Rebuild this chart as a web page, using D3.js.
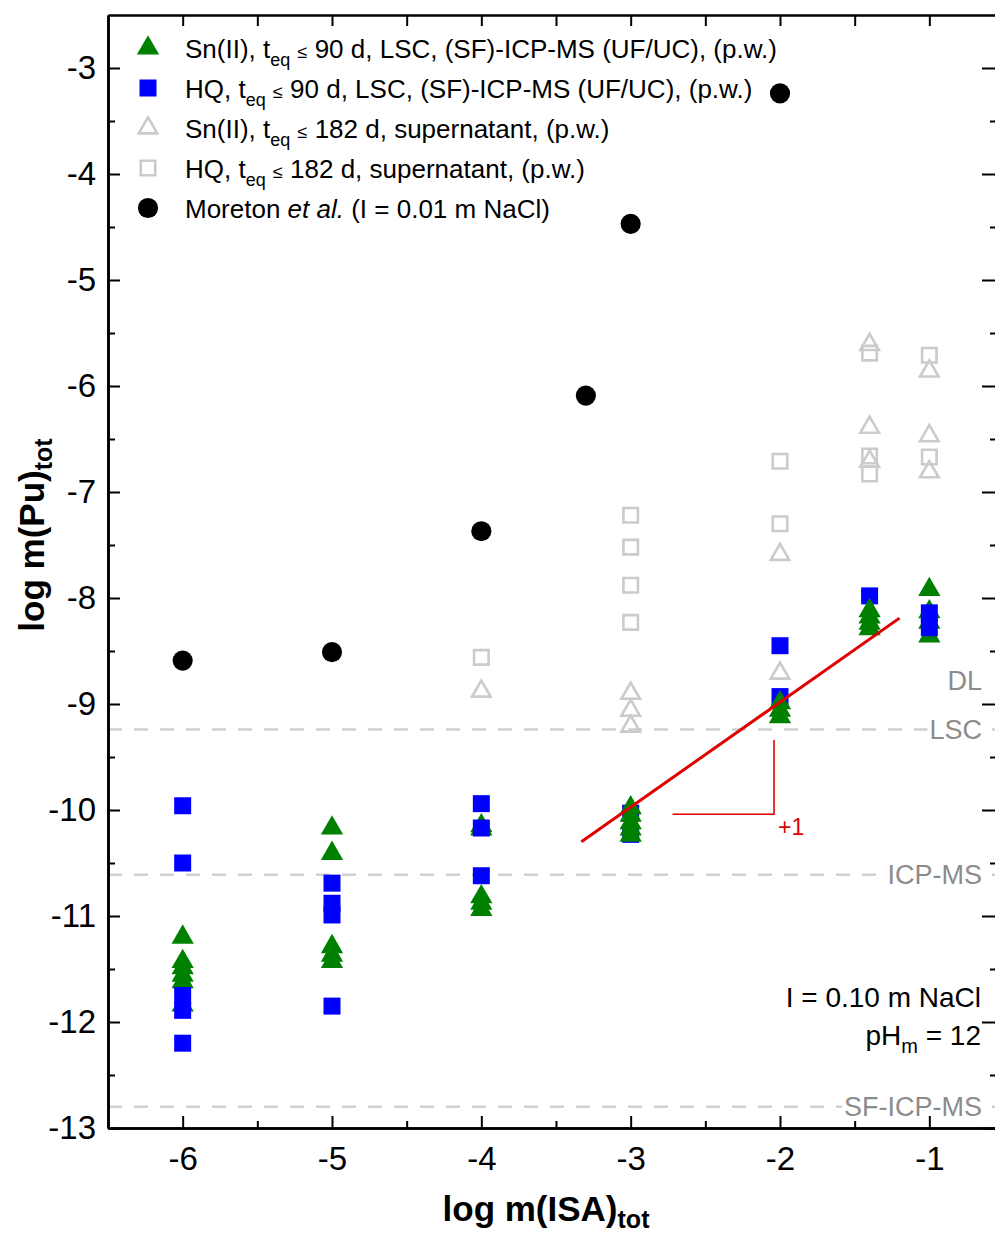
<!DOCTYPE html>
<html>
<head>
<meta charset="utf-8">
<script src="https://cdn.jsdelivr.net/npm/d3@7"></script>
<style>
  body { margin: 0; background: #fff; }
  svg text { font-family: "Liberation Sans", Arial, sans-serif; }
</style>
</head>
<body>
<div id="chartArea"></div>
<script>
// ---- data ----
var xTicks = [-6, -5, -4, -3, -2, -1];
var yTicks = [-3, -4, -5, -6, -7, -8, -9, -10, -11, -12, -13];
var xMinor = [-5.5, -4.5, -3.5, -2.5, -1.5];
var yMinor = [-3.5, -4.5, -5.5, -6.5, -7.5, -8.5, -9.5, -10.5, -11.5, -12.5];

// Sn(II), t_eq <= 90 d
var snII90 = [
  [-6, -11.20], [-6, -11.43], [-6, -11.49], [-6, -11.56], [-6, -11.62], [-6, -11.84],
  [-5, -10.17], [-5, -10.41], [-5, -11.29], [-5, -11.37], [-5, -11.43],
  [-4, -10.15], [-4, -10.18], [-4, -10.82], [-4, -10.88], [-4, -10.94],
  [-3, -9.98], [-3, -10.05], [-3, -10.12], [-3, -10.18], [-3, -10.24],
  [-2, -8.99], [-2, -9.06], [-2, -9.12],
  [-1.4, -8.12], [-1.4, -8.18], [-1.4, -8.24], [-1.4, -8.29],
  [-1, -7.92], [-1, -8.13], [-1, -8.23], [-1, -8.36]
];
// HQ, t_eq <= 90 d
var hq90 = [
  [-6, -9.96], [-6, -10.50], [-6, -11.75], [-6, -11.89], [-6, -12.20],
  [-5, -10.69], [-5, -10.88], [-5, -10.99], [-5, -11.85],
  [-4, -9.94], [-4, -10.17], [-4, -10.62],
  [-3, -10.03], [-3, -10.23],
  [-2, -8.45], [-2, -8.93],
  [-1.4, -7.98],
  [-1, -8.14], [-1, -8.28]
];
// Sn(II), t_eq <= 182 d, supernatant
var snII182 = [
  [-4, -8.88],
  [-3, -8.90], [-3, -9.06], [-3, -9.21],
  [-2, -7.59], [-2, -8.71],
  [-1.4, -5.61], [-1.4, -6.39], [-1.4, -6.71],
  [-1, -5.86], [-1, -6.47], [-1, -6.81]
];
// HQ, t_eq <= 182 d, supernatant
var hq182 = [
  [-4, -8.56],
  [-3, -7.22], [-3, -7.52], [-3, -7.88], [-3, -8.23],
  [-2, -6.71], [-2, -7.30],
  [-1.4, -5.69], [-1.4, -6.66], [-1.4, -6.83],
  [-1, -5.71], [-1, -6.67]
];
// Moreton et al.
var moreton = [[-6, -8.59], [-5, -8.51], [-4, -7.37], [-3.3, -6.09], [-3, -4.47], [-2, -3.24]];

// columns where the green triangles sit on top of the blue squares
var greenOnTop = [-3, -2, -1.4];

// slope +1 line and its marker
var fitLine = [[-3.33, -10.30], [-1.2, -8.19]];
var slopeMark = [[-2.72, -10.04], [-2.04, -10.04], [-2.04, -9.34]];

// detection limits
var limits = [
  { name: "LSC", value: -9.24 },
  { name: "ICP-MS", value: -10.61 },
  { name: "SF-ICP-MS", value: -12.80 }
];
var dlLabelValue = -8.78;

// ---- layout ----
var W = 995, H = 1235;
var green = "#008000", blue = "#0000ff", grey = "#cbcbcb", red = "#e00000";

var svg = d3.select("#chartArea").append("svg")
  .attr("width", W)
  .attr("height", H);

var x = d3.scaleLinear().domain([-6.5, -0.5]).range([108, 1004]);
var y = d3.scaleLinear().domain([-13, -2.5]).range([1128, 15]);

// detection limit lines
var lim = svg.append("g");
limits.forEach(function(l) {
  lim.append("line")
    .attr("x1", x(-6.5)).attr("x2", x(-0.5))
    .attr("y1", y(l.value)).attr("y2", y(l.value))
    .attr("stroke", "#d0d0d0")
    .attr("stroke-width", 2.5)
    .attr("stroke-dasharray", "14,12");
  var t = lim.append("text")
    .attr("x", 982).attr("y", y(l.value) + 9.5)
    .attr("text-anchor", "end")
    .attr("font-size", 27)
    .attr("fill", "#8c8c8c")
    .text(l.name);
  var bb = t.node().getBBox();
  lim.insert("rect", function() { return t.node(); })
    .attr("x", bb.x - 2).attr("y", y(l.value) - 5)
    .attr("width", bb.width + 4).attr("height", 10)
    .attr("fill", "#fff");
});
lim.append("text")
  .attr("x", 982).attr("y", y(dlLabelValue) + 9.5)
  .attr("text-anchor", "end")
  .attr("font-size", 27)
  .attr("fill", "#8c8c8c")
  .text("DL");

// markers
var triPath = d3.symbol().type(d3.symbolTriangle).size(215)();
var sqPath = d3.symbol().type(d3.symbolSquare).size(289)();
var openTri = d3.symbol().type(d3.symbolTriangle).size(150)();
var openSq = d3.symbol().type(d3.symbolSquare).size(210)();
var dotPath = d3.symbol().type(d3.symbolCircle).size(320)();

function drawPoints(data, path, fill, stroke) {
  svg.append("g").selectAll("path")
    .data(data)
    .enter().append("path")
    .attr("d", path)
    .attr("transform", function(d) { return "translate(" + x(d[0]) + "," + y(d[1]) + ")"; })
    .attr("fill", fill)
    .attr("stroke", stroke || "none")
    .attr("stroke-width", stroke ? 2.6 : 0);
}

function onTop(d) { return greenOnTop.indexOf(d[0]) >= 0; }

drawPoints(hq182, openSq, "none", grey);
drawPoints(snII182, openTri, "none", grey);
drawPoints(moreton, dotPath, "#000");
drawPoints(snII90.filter(function(d) { return !onTop(d); }), triPath, green);
drawPoints(hq90, sqPath, blue);
drawPoints(snII90.filter(onTop), triPath, green);

// slope line
var line = d3.line().x(function(d) { return x(d[0]); }).y(function(d) { return y(d[1]); });
svg.append("path").datum(fitLine)
  .attr("d", line).attr("fill", "none")
  .attr("stroke", red).attr("stroke-width", 3);
svg.append("path").datum(slopeMark)
  .attr("d", line).attr("fill", "none")
  .attr("stroke", red).attr("stroke-width", 1.6);
svg.append("text")
  .attr("x", x(-2.04) + 4).attr("y", y(-10.04) + 21)
  .attr("font-size", 23).attr("fill", red)
  .text("+1");

// axes
function styleAxis(g) {
  g.selectAll(".domain").attr("stroke-width", 2.6);
  g.selectAll(".tick line").attr("stroke-width", 2);
  g.selectAll(".tick text").attr("font-size", 33).attr("fill", "#000")
    .attr("font-family", '"Liberation Sans", Arial, sans-serif');
}
var fmt = function(d) { return String(d); };

svg.append("g").attr("transform", "translate(0,1128)")
  .call(d3.axisBottom(x).tickValues(xTicks).tickSize(-12).tickSizeOuter(0).tickPadding(19).tickFormat(fmt))
  .call(styleAxis);
svg.append("g").attr("transform", "translate(0,1128)")
  .call(d3.axisBottom(x).tickValues(xMinor).tickSize(-7).tickSizeOuter(0).tickFormat(""))
  .call(styleAxis);
svg.append("g").attr("transform", "translate(0,15)")
  .call(d3.axisTop(x).tickValues(xTicks.concat(xMinor)).tickSize(-11).tickSizeOuter(0).tickFormat(""))
  .call(styleAxis);
svg.append("g").attr("transform", "translate(108,0)")
  .call(d3.axisLeft(y).tickValues(yTicks).tickSize(-12).tickSizeOuter(0).tickPadding(12).tickFormat(fmt))
  .call(styleAxis);
svg.append("g").attr("transform", "translate(108,0)")
  .call(d3.axisLeft(y).tickValues(yMinor).tickSize(-7).tickSizeOuter(0).tickFormat(""))
  .call(styleAxis);
svg.append("g").attr("transform", "translate(1004,0)")
  .call(d3.axisRight(y).tickValues(yTicks).tickSize(-22).tickSizeOuter(0).tickFormat(""))
  .call(styleAxis);
svg.append("g").attr("transform", "translate(1004,0)")
  .call(d3.axisRight(y).tickValues(yMinor).tickSize(-14).tickSizeOuter(0).tickFormat(""))
  .call(styleAxis);

// rich text helper (subscripts, small glyphs, italics)
function rich(t, parts, subSize, shift) {
  var off = 0;
  parts.forEach(function(p) {
    var s = t.append("tspan").text(p.t);
    if (p.sub) {
      s.attr("font-size", subSize).attr("dy", shift - off);
      off = shift;
    } else {
      if (off) s.attr("dy", -off);
      off = 0;
      if (p.small) s.attr("font-size", p.small);
      if (p.it) s.attr("font-style", "italic");
    }
  });
}

// axis titles
var xt = svg.append("text")
  .attr("x", 546).attr("y", 1221)
  .attr("text-anchor", "middle")
  .attr("font-size", 35).attr("font-weight", "bold");
rich(xt, [{ t: "log m(ISA)" }, { t: "tot", sub: true }], 25, 7);

var yt = svg.append("text")
  .attr("transform", "translate(44,535) rotate(-90)")
  .attr("text-anchor", "middle")
  .attr("font-size", 35).attr("font-weight", "bold");
rich(yt, [{ t: "log m(Pu)" }, { t: "tot", sub: true }], 25, 8);

// legend
var legendRows = [
  { path: triPath, fill: green, parts: [{ t: "Sn(II), t" }, { t: "eq", sub: true }, { t: " " }, { t: "\u2264", small: 18 }, { t: " 90 d, LSC, (SF)-ICP-MS (UF/UC), (p.w.)" }] },
  { path: sqPath, fill: blue, parts: [{ t: "HQ, t" }, { t: "eq", sub: true }, { t: " " }, { t: "\u2264", small: 18 }, { t: " 90 d, LSC, (SF)-ICP-MS (UF/UC), (p.w.)" }] },
  { path: openTri, fill: "none", stroke: grey, parts: [{ t: "Sn(II), t" }, { t: "eq", sub: true }, { t: " " }, { t: "\u2264", small: 18 }, { t: " 182 d, supernatant, (p.w.)" }] },
  { path: openSq, fill: "none", stroke: grey, parts: [{ t: "HQ, t" }, { t: "eq", sub: true }, { t: " " }, { t: "\u2264", small: 18 }, { t: " 182 d, supernatant, (p.w.)" }] },
  { path: dotPath, fill: "#000", parts: [{ t: "Moreton " }, { t: "et al.", it: true }, { t: " (I = 0.01 m NaCl)" }] }
];
var legend = svg.append("g");
legendRows.forEach(function(r, i) {
  var cy = 48 + i * 40;
  legend.append("path")
    .attr("d", r.path)
    .attr("transform", "translate(148," + cy + ")")
    .attr("fill", r.fill)
    .attr("stroke", r.stroke || "none")
    .attr("stroke-width", r.stroke ? 2.6 : 0);
  var t = legend.append("text")
    .attr("x", 185).attr("y", cy + 9.5)
    .attr("font-size", 26).attr("fill", "#000");
  rich(t, r.parts, 18, 8);
});

// conditions
svg.append("text")
  .attr("x", 981).attr("y", 1007)
  .attr("text-anchor", "end").attr("font-size", 28)
  .text("I = 0.10 m NaCl");
var ph = svg.append("text")
  .attr("x", 981).attr("y", 1045)
  .attr("text-anchor", "end").attr("font-size", 28);
rich(ph, [{ t: "pH" }, { t: "m", sub: true }, { t: " = 12" }], 20, 8);
</script>
</body>
</html>
